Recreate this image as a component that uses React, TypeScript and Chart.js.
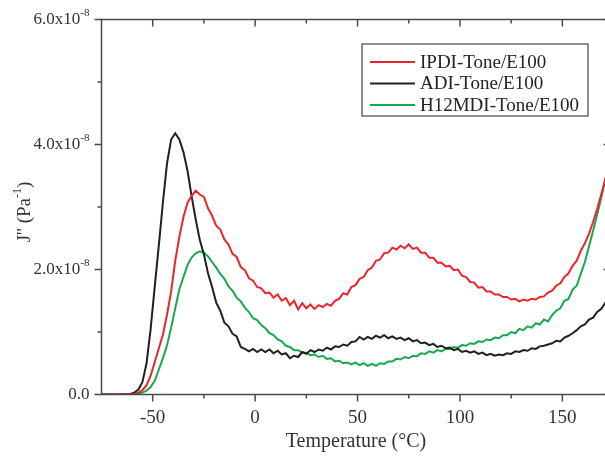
import { useEffect, useRef } from "react";
import { Chart, registerables } from "chart.js";

Chart.register(...registerables);

const TEMPS = [
  -75, -73, -71, -69, -67, -65, -63, -61, -59, -57,
  -55, -53, -51, -49, -47, -45, -43, -41, -39, -37,
  -35, -33, -31, -29, -27, -25, -23, -21, -19, -17,
  -15, -13, -11, -9, -7, -5, -3, -1, 1, 3,
  5, 7, 9, 11, 13, 15, 17, 19, 21, 23,
  25, 27, 29, 31, 33, 35, 37, 39, 41, 43,
  45, 47, 49, 51, 53, 55, 57, 59, 61, 63,
  65, 67, 69, 71, 73, 75, 77, 79, 81, 83,
  85, 87, 89, 91, 93, 95, 97, 99, 101, 103,
  105, 107, 109, 111, 113, 115, 117, 119, 121, 123,
  125, 127, 129, 131, 133, 135, 137, 139, 141, 143,
  145, 147, 149, 151, 153, 155, 157, 159, 161, 163,
  165, 167, 169, 171, 173,
];

// J'' values in units of 1e-8 Pa^-1
const IPDI = [
  0, 0, 0, 0, 0, 0, 0, 0.005, 0.01, 0.03,
  0.07, 0.15, 0.3, 0.52, 0.74, 0.96, 1.28, 1.65, 2.14, 2.52,
  2.84, 3.07, 3.18, 3.26, 3.2, 3.16, 2.98, 2.86, 2.7, 2.64,
  2.48, 2.4, 2.25, 2.2, 2.04, 1.99, 1.86, 1.82, 1.72, 1.7,
  1.62, 1.63, 1.55, 1.6, 1.5, 1.54, 1.43, 1.5, 1.36, 1.46,
  1.38, 1.44, 1.37, 1.43, 1.4, 1.45, 1.42, 1.5, 1.53, 1.62,
  1.6, 1.72, 1.75, 1.85, 1.88, 1.99, 2.03, 2.14, 2.16, 2.26,
  2.27, 2.35, 2.32, 2.38, 2.34, 2.4, 2.33, 2.35, 2.27, 2.27,
  2.19, 2.19, 2.11, 2.11, 2.05, 2.06, 1.99, 2.0, 1.9, 1.88,
  1.8, 1.79, 1.71, 1.72, 1.65, 1.65, 1.6, 1.6, 1.56, 1.56,
  1.52, 1.53, 1.49, 1.52, 1.5, 1.53, 1.52, 1.56, 1.57, 1.63,
  1.66, 1.74, 1.78, 1.88, 1.94, 2.06, 2.14, 2.3, 2.42, 2.57,
  2.76, 2.97, 3.2, 3.45, 3.7,
];

const ADI = [
  0, 0, 0, 0, 0, 0, 0.005, 0.01, 0.03, 0.08,
  0.2, 0.5, 1.05, 1.73, 2.39, 3.08, 3.7, 4.08, 4.18, 4.08,
  3.88, 3.58, 3.17, 2.8, 2.47, 2.24, 1.94, 1.72, 1.47, 1.34,
  1.15, 1.09, 0.97, 0.93, 0.76, 0.73, 0.69, 0.73, 0.68, 0.72,
  0.68, 0.72, 0.66, 0.7, 0.64, 0.66, 0.58, 0.62, 0.6, 0.68,
  0.65, 0.71, 0.68, 0.72, 0.7, 0.75, 0.72, 0.77, 0.76, 0.8,
  0.78, 0.84, 0.85, 0.92, 0.88, 0.92, 0.89, 0.94, 0.91, 0.95,
  0.9, 0.93, 0.89, 0.91, 0.87, 0.9, 0.85, 0.87, 0.82, 0.83,
  0.79, 0.81, 0.76, 0.78, 0.74, 0.75, 0.71, 0.73, 0.68, 0.7,
  0.67, 0.69, 0.65, 0.67, 0.63, 0.65, 0.62, 0.64, 0.63, 0.66,
  0.65, 0.69, 0.68, 0.71, 0.7, 0.74, 0.73, 0.77, 0.78, 0.8,
  0.82, 0.86, 0.85, 0.91, 0.94, 0.98, 1.03, 1.09, 1.12, 1.2,
  1.23, 1.32, 1.37, 1.47, 1.54,
];

const H12MDI = [
  0, 0, 0, 0, 0, 0, 0, 0, 0.005, 0.015,
  0.03, 0.06, 0.12, 0.22, 0.4, 0.58, 0.79, 1.07, 1.38, 1.68,
  1.88, 2.07, 2.19, 2.26, 2.29, 2.27, 2.21, 2.12, 2.03, 1.93,
  1.85, 1.73, 1.66, 1.55, 1.49, 1.39, 1.32, 1.22, 1.19, 1.11,
  1.06, 0.98, 0.95, 0.88, 0.85, 0.78, 0.76, 0.71, 0.71, 0.67,
  0.67, 0.63, 0.64, 0.6, 0.62, 0.57, 0.58, 0.53, 0.54, 0.5,
  0.51, 0.48, 0.51, 0.47, 0.5, 0.46, 0.49, 0.46, 0.5, 0.49,
  0.53, 0.53, 0.57, 0.56, 0.6, 0.58, 0.62, 0.61, 0.66, 0.65,
  0.69, 0.67, 0.71, 0.69, 0.73, 0.73, 0.76, 0.75, 0.79, 0.78,
  0.82, 0.81, 0.85, 0.84, 0.88, 0.87, 0.91, 0.9, 0.95, 0.95,
  1.0, 0.98, 1.05, 1.03, 1.09, 1.07, 1.14, 1.12, 1.2, 1.17,
  1.27, 1.34, 1.38, 1.5, 1.53, 1.68, 1.74, 1.93, 2.12, 2.37,
  2.62, 2.88, 3.15, 3.45, 3.75,
];

const SERIES_LABELS = ["IPDI-Tone/E100", "ADI-Tone/E100", "H12MDI-Tone/E100"];
const SERIES_COLORS = ["#e8262b", "#231f20", "#18a84e"];
const X_MAJOR = [-50, 0, 50, 100, 150];
const X_MINOR = [-25, 25, 75, 125];
const Y_MAJOR = [0, 2, 4, 6];
const Y_MINOR = [1, 3, 5];
const Y_EXP = "-8";
const X_TITLE = "Temperature (°C)";
const Y_TITLE_MAIN = "J'' (Pa";
const Y_TITLE_SUP = "-1";

const SERIF = "'Liberation Serif', 'Times New Roman', serif";

const decorPlugin = {
  id: "decor",
  afterDraw(chart: any) {
    const ctx = chart.ctx as CanvasRenderingContext2D;
    const a = chart.chartArea;
    const xs = chart.scales.x;
    const ys = chart.scales.y;
    ctx.save();
    ctx.strokeStyle = "#4a4a4a";
    ctx.lineWidth = 1.5;
    ctx.strokeRect(a.left, a.top, a.right - a.left, a.bottom - a.top);
    ctx.beginPath();
    const xt = (v: number, len: number) => {
      const p = xs.getPixelForValue(v);
      ctx.moveTo(p, a.bottom);
      ctx.lineTo(p, a.bottom + len);
      ctx.moveTo(p, a.top);
      ctx.lineTo(p, a.top + len);
    };
    X_MAJOR.forEach((v) => xt(v, 7));
    X_MINOR.forEach((v) => xt(v, 4));
    const yt = (v: number, len: number) => {
      const p = ys.getPixelForValue(v);
      ctx.moveTo(a.left - len, p);
      ctx.lineTo(a.left, p);
      ctx.moveTo(a.right - len, p);
      ctx.lineTo(a.right, p);
    };
    Y_MAJOR.forEach((v) => yt(v, 7));
    Y_MINOR.forEach((v) => yt(v, 4));
    ctx.stroke();

    ctx.fillStyle = "#333";
    // x tick labels
    ctx.font = `19px ${SERIF}`;
    ctx.textAlign = "center";
    ctx.textBaseline = "middle";
    X_MAJOR.forEach((v) => {
      ctx.fillText(String(v), xs.getPixelForValue(v), a.bottom + 24);
    });
    // x title
    ctx.font = `20px ${SERIF}`;
    ctx.fillText(X_TITLE, (a.left + a.right) / 2, a.bottom + 47);

    // y tick labels
    const rightX = a.left - 12;
    Y_MAJOR.forEach((v) => {
      const p = ys.getPixelForValue(v);
      ctx.textBaseline = "middle";
      if (v === 0) {
        ctx.font = `17px ${SERIF}`;
        ctx.textAlign = "right";
        ctx.fillText(v.toFixed(1), rightX, p);
        return;
      }
      ctx.font = `11px ${SERIF}`;
      const supW = ctx.measureText(Y_EXP).width;
      ctx.textAlign = "left";
      ctx.fillText(Y_EXP, rightX - supW, p - 6);
      ctx.font = `17px ${SERIF}`;
      ctx.textAlign = "right";
      ctx.fillText(`${v.toFixed(1)}x10`, rightX - supW, p);
    });

    // y title rotated
    ctx.save();
    ctx.translate(25, (a.top + a.bottom) / 2 + 5);
    ctx.rotate(-Math.PI / 2);
    ctx.font = `19px ${SERIF}`;
    const w1 = ctx.measureText(Y_TITLE_MAIN).width;
    const w3 = ctx.measureText(")").width;
    ctx.font = `12px ${SERIF}`;
    const w2 = ctx.measureText(Y_TITLE_SUP).width;
    const total = w1 + w2 + w3;
    let x0 = -total / 2;
    ctx.textAlign = "left";
    ctx.textBaseline = "middle";
    ctx.font = `19px ${SERIF}`;
    ctx.fillText(Y_TITLE_MAIN, x0, 0);
    x0 += w1;
    ctx.font = `12px ${SERIF}`;
    ctx.fillText(Y_TITLE_SUP, x0, -7);
    x0 += w2;
    ctx.font = `19px ${SERIF}`;
    ctx.fillText(")", x0, 0);
    ctx.restore();

    // legend
    const lx = 362, ly = 44, lw = 226, lh = 72;
    ctx.strokeStyle = "#444";
    ctx.lineWidth = 1.2;
    ctx.strokeRect(lx, ly, lw, lh);
    chart.data.datasets.forEach((ds: any, i: number) => {
      const yy = ly + 18 + i * 21.5;
      ctx.strokeStyle = ds.borderColor;
      ctx.lineWidth = 2;
      ctx.beginPath();
      ctx.moveTo(lx + 8, yy);
      ctx.lineTo(lx + 53, yy);
      ctx.stroke();
      ctx.fillStyle = "#222";
      ctx.font = `19px ${SERIF}`;
      ctx.textAlign = "left";
      ctx.textBaseline = "middle";
      ctx.fillText(ds.label, lx + 58, yy + 1);
    });
    ctx.restore();
  },
};

export default function App() {
  const ref = useRef<HTMLCanvasElement | null>(null);
  useEffect(() => {
    document.body.style.margin = "0";
    document.body.style.overflow = "hidden";
    const canvas = ref.current;
    if (!canvas) return;
    const series = [IPDI, ADI, H12MDI];
    const chart = new Chart(canvas, {
      type: "line",
      data: {
        datasets: series.map((vals, i) => ({
          label: SERIES_LABELS[i],
          data: TEMPS.map((t, k) => ({ x: t, y: vals[k] })),
          borderColor: SERIES_COLORS[i],
          backgroundColor: SERIES_COLORS[i],
          borderWidth: 2,
          pointRadius: 0,
          tension: 0,
          fill: false,
        })),
      },
      options: {
        animation: false,
        responsive: false,
        maintainAspectRatio: false,
        layout: { padding: { left: 101.5, top: 19.5, right: 9.5, bottom: 62.5 } },
        scales: {
          x: { type: "linear", min: -75, max: 173.5, display: false },
          y: { type: "linear", min: 0, max: 6, display: false },
        },
        plugins: { legend: { display: false }, tooltip: { enabled: false } },
      },
      plugins: [decorPlugin],
    });
    return () => chart.destroy();
  }, []);
  return (
    <div style={{ width: 620, height: 457, background: "#fff" }}>
      <canvas ref={ref} width={620} height={457} style={{ display: "block" }} />
    </div>
  );
}
